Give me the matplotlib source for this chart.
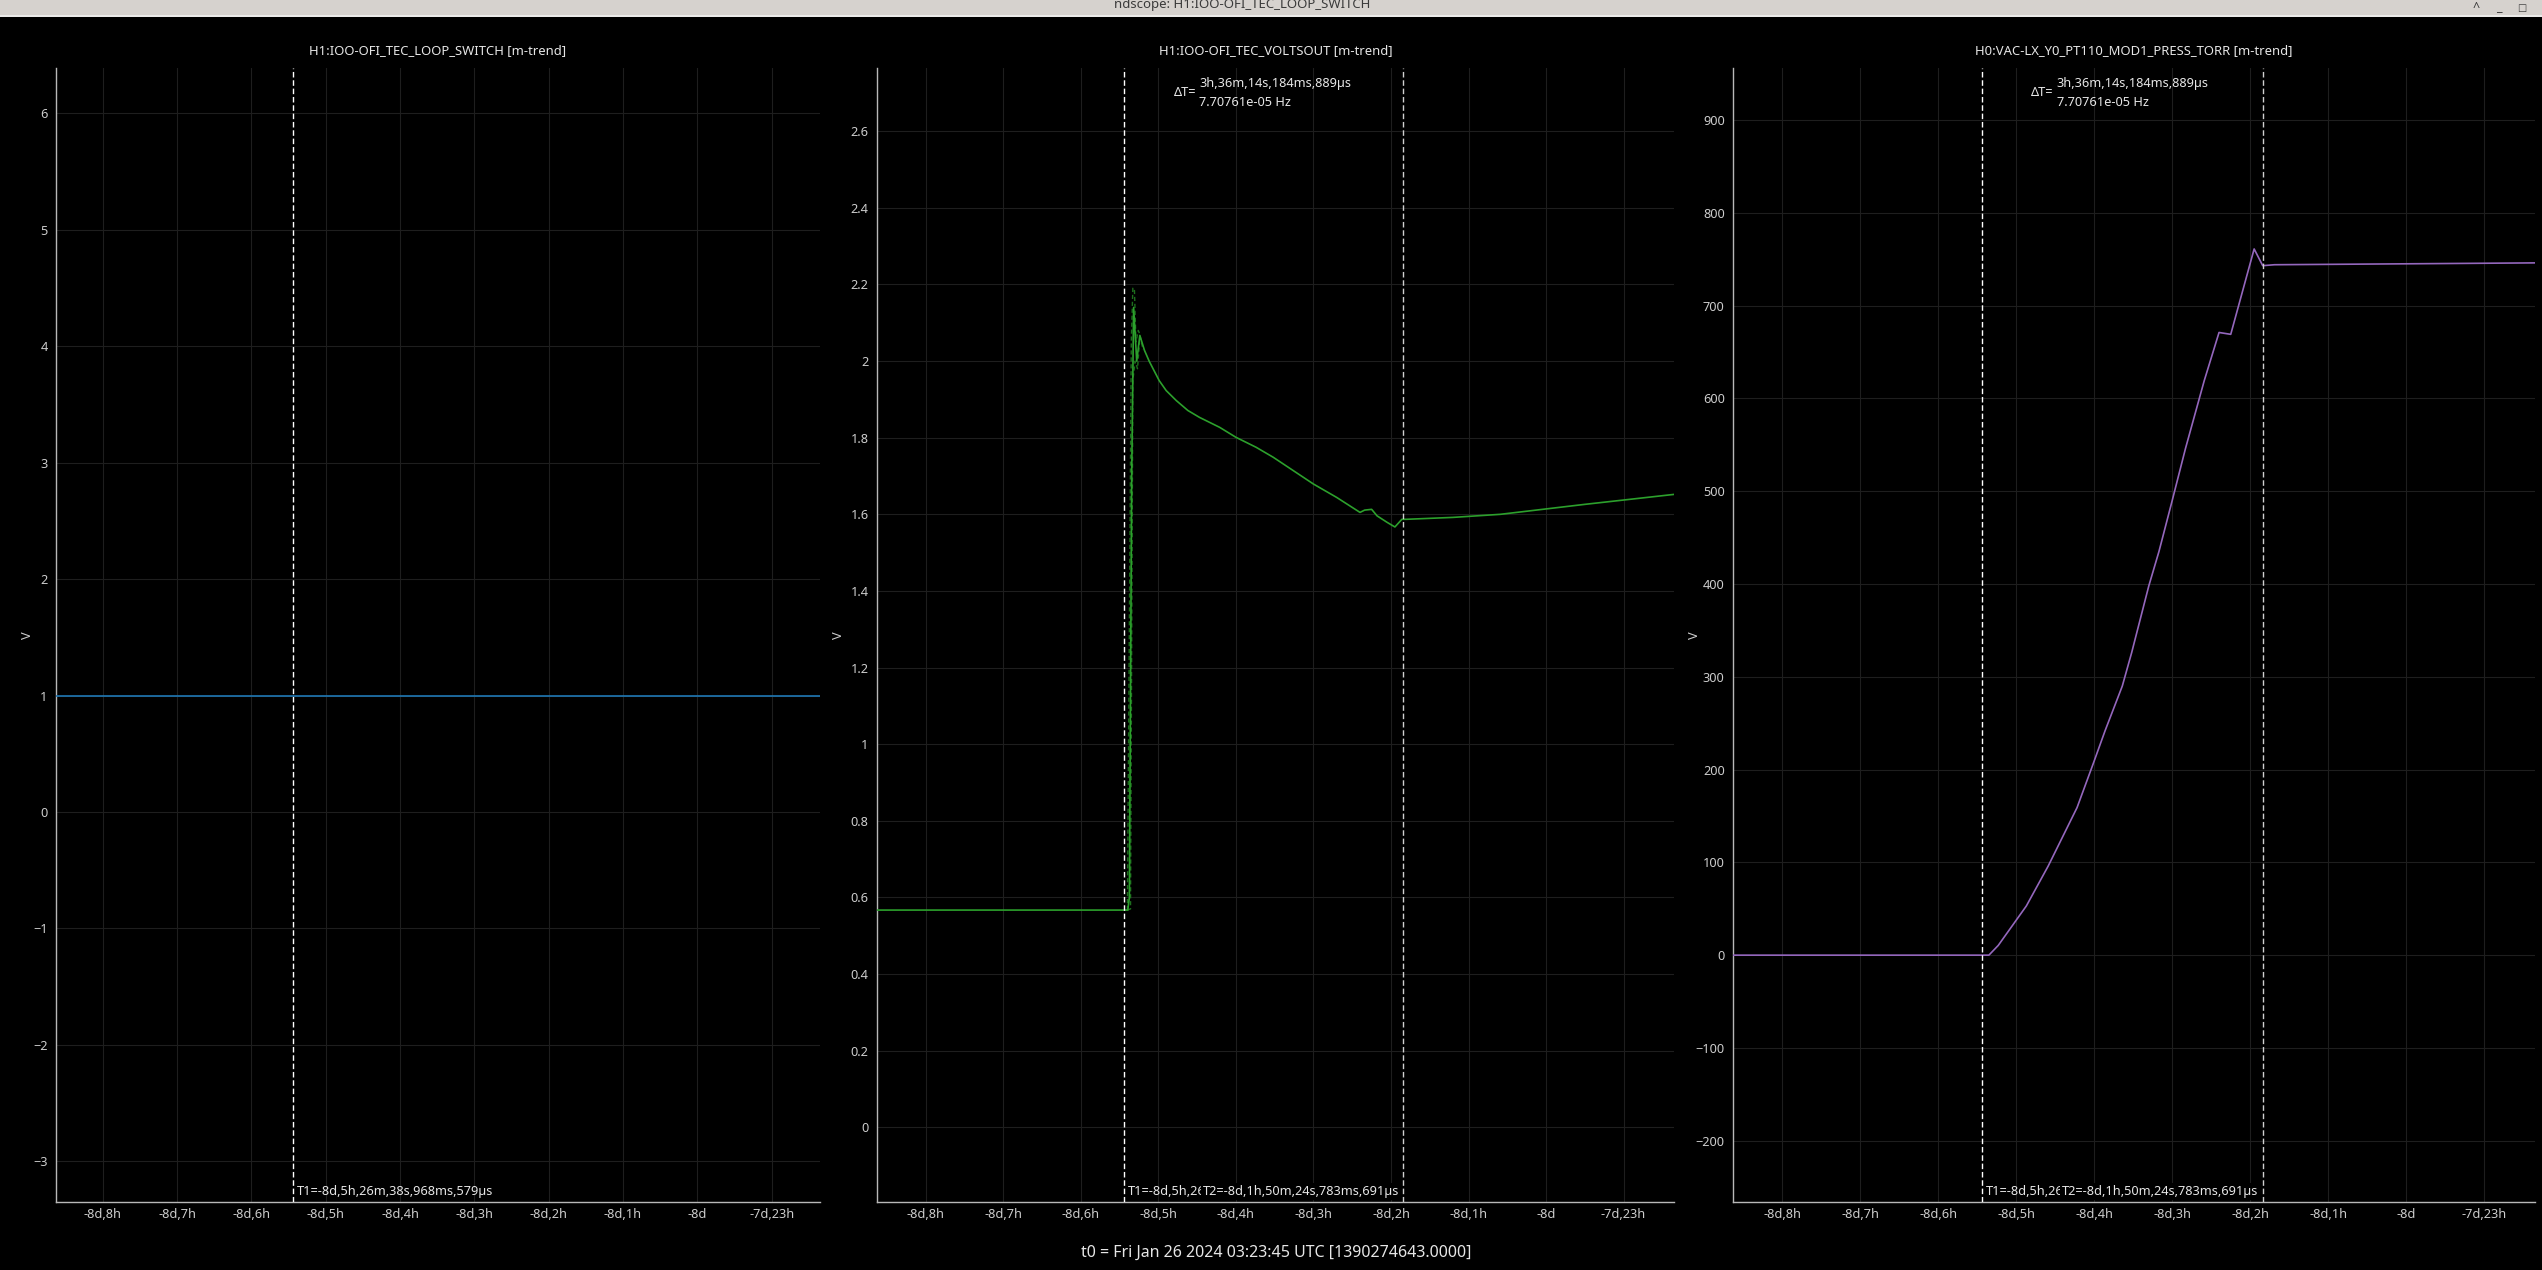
import numpy as np
import matplotlib.pyplot as plt
from matplotlib.ticker import FixedLocator, FuncFormatter, MultipleLocator
from matplotlib.patches import Rectangle

plt.rcParams['font.family'] = ['Noto Sans', 'DejaVu Sans']

# time axis: hours relative to t0
t_min, t_max = -200.63, -190.35
hour_ticks = list(range(-200, -190))
t1 = -197.444
t2 = -193.840

# H1:IOO-OFI_TEC_LOOP_SWITCH
switch_t = [-200.63, -190.35]
switch_v = [1, 1]

# H1:IOO-OFI_TEC_VOLTSOUT (mean)
volts_t = [-200.63, -197.395, -197.375, -197.345, -197.32, -197.28, -197.24,
           -197.18, -197.12, -196.99, -196.90, -196.77, -196.62, -196.47,
           -196.34, -196.21, -196.00, -195.74, -195.52, -195.26, -195.00,
           -194.70, -194.40, -194.34, -194.25, -194.18, -194.05, -193.95,
           -193.86, -193.80, -193.20, -192.59, -191.50, -190.35]
volts_v = [0.567, 0.567, 0.60, 1.70, 2.14, 2.00, 2.067,
           2.028, 2.00, 1.949, 1.923, 1.897, 1.871, 1.853,
           1.840, 1.827, 1.801, 1.775, 1.749, 1.714, 1.679,
           1.644, 1.605, 1.611, 1.613, 1.596, 1.579, 1.567,
           1.587, 1.587, 1.592, 1.600, 1.626, 1.652]
# min / max envelope around the spike
volts_max_t = [-197.40, -197.35, -197.33, -197.31, -197.29, -197.26, -197.24, -197.20]
volts_max_v = [0.567, 2.05, 2.19, 2.19, 2.05, 2.08, 2.07, 2.03]
volts_min_t = [-197.40, -197.36, -197.33, -197.30, -197.27, -197.24]
volts_min_v = [0.567, 0.57, 1.95, 2.00, 1.98, 2.06]

# H0:VAC-LX_Y0_PT110_MOD1_PRESS_TORR
press_t = [-200.67, -197.35, -197.23, -196.87, -196.59, -196.22, -196.01,
           -195.86, -195.64, -195.52, -195.30, -195.17, -195.00, -194.83,
           -194.59, -194.40, -194.25, -193.95, -193.84, -193.69, -192.00, -190.34]
press_v = [0, 0, 10.5, 53, 96, 159, 207,
           242, 290, 326, 398, 435, 490, 546,
           619, 671, 669, 761, 743, 744, 745, 746]

titles = ['H1:IOO-OFI_TEC_LOOP_SWITCH [m-trend]',
          'H1:IOO-OFI_TEC_VOLTSOUT [m-trend]',
          'H0:VAC-LX_Y0_PT110_MOD1_PRESS_TORR [m-trend]']
t1_label = 'T1=-8d,5h,26m,38s,968ms,579µs'
t2_label = 'T2=-8d,1h,50m,24s,783ms,691µs'
dt_label = '3h,36m,14s,184ms,889µs\n7.70761e-05 Hz'
t0_label = 't0 = Fri Jan 26 2024 03:23:45 UTC [1390274643.0000]'


def fmt_hours(h, pos):
    tot = int(round(-h))
    d, r = divmod(tot, 24)
    if r == 0:
        return '-%dd' % d
    return '-%dd,%dh' % (d, r)


W, H = 2542, 1270
fig = plt.figure(figsize=(W / 100, H / 100), dpi=100, facecolor='black')

# window title bar
fig.patches.append(Rectangle((0, 1 - 15 / H), 1, 15 / H, transform=fig.transFigure,
                             facecolor='#d6d2ce', edgecolor='none', zorder=0))
fig.patches.append(Rectangle((0, 1 - 17 / H), 1, 2 / H, transform=fig.transFigure,
                             facecolor='#ecebe9', edgecolor='none', zorder=0))
fig.text(1242 / W, 1 - 8 / H, 'ndscope: H1:IOO-OFI_TEC_LOOP_SWITCH', ha='center',
         va='baseline', fontsize=9.5, fontweight='bold', color='#3a3a3a')
fig.text(2476 / W, 1 - 8 / H, '^', ha='center', va='center', fontsize=9,
         fontweight='bold', color='#3a3a3a')
fig.text(2499 / W, 1 - 8 / H, '_', ha='center', va='center', fontsize=9,
         fontweight='bold', color='#3a3a3a')
fig.text(2522 / W, 1 - 8 / H, '□', ha='center', va='center', fontsize=7,
         fontweight='bold', color='#3a3a3a')

# axes boxes in pixels: left, right
boxes = [(56, 820), (877, 1674), (1733, 2535)]
top, bottom = 68, 1202

axes = []
for (l, r) in boxes:
    ax = fig.add_axes([l / W, 1 - bottom / H, (r - l) / W, (bottom - top) / H])
    ax.set_facecolor('black')
    for s in ['top', 'right']:
        ax.spines[s].set_visible(False)
    for s in ['left', 'bottom']:
        ax.spines[s].set_color('#b8b8b8')
        ax.spines[s].set_linewidth(1)
    ax.set_xlim(t_min, t_max)
    ax.xaxis.set_major_locator(FixedLocator(hour_ticks))
    ax.xaxis.set_major_formatter(FuncFormatter(fmt_hours))
    ax.tick_params(axis='both', length=0, colors='#cccccc', labelsize=9.2)
    ax.tick_params(axis='x', pad=4)
    ax.tick_params(axis='y', pad=6)
    ax.grid(True, color='#1e1e1e', linewidth=0.8)
    ax.set_axisbelow(True)
    axes.append(ax)

ax1, ax2, ax3 = axes

ax1.plot(switch_t, switch_v, color='#1f77b4', lw=1.2, zorder=3)
ax1.set_ylim(-3.35, 6.39)
ax1.yaxis.set_major_locator(MultipleLocator(1))

ax2.plot(volts_max_t, volts_max_v, color='#1d6e1d', lw=1.0, ls=(0, (3, 2)), zorder=2)
ax2.plot(volts_min_t, volts_min_v, color='#1d6e1d', lw=1.0, ls=(0, (3, 2)), zorder=2)
ax2.plot(volts_t, volts_v, color='#2ca02c', lw=1.2, zorder=3)
ax2.set_ylim(-0.195, 2.765)
ax2.yaxis.set_major_locator(MultipleLocator(0.2))
ax2.yaxis.set_major_formatter(FuncFormatter(lambda v, p: '%g' % round(v, 2)))

ax3.plot(press_t, press_v, color='#9467bd', lw=1.2, zorder=3)
ax3.set_ylim(-266, 956)
ax3.yaxis.set_major_locator(MultipleLocator(100))

for ax, title in zip(axes, titles):
    ax.set_title(title, color='#e6e6e6', fontsize=9.4, pad=10)
    ax.set_ylabel('V', color='#cccccc', fontsize=9.2)

ax1.yaxis.set_label_coords(-22 / (820 - 56), 0.5)
ax2.yaxis.set_label_coords(-32 / (1674 - 877), 0.5)
ax3.yaxis.set_label_coords(-32 / (2535 - 1733), 0.5)

# cursors
ax1.axvline(t1, color='white', lw=1.0, ls=(0, (4, 2)), zorder=4)
ax1.annotate(t1_label, xy=(t1, 0), xycoords=('data', 'axes fraction'),
             xytext=(4, 4), textcoords='offset pixels', ha='left', va='bottom',
             color='#e6e6e6', fontsize=9.2)

for ax in (ax2, ax3):
    ax.axvline(t1, color='white', lw=1.0, ls=(0, (4, 2)), zorder=4)
    ax.axvline(t2, color='#d0d0d0', lw=1.0, ls=(0, (4, 2)), zorder=4)
    ax.annotate(t1_label, xy=(t1, 0), xycoords=('data', 'axes fraction'),
                xytext=(4, 4), textcoords='offset pixels', ha='left', va='bottom',
                color='#e6e6e6', fontsize=9.2, zorder=5)
    ax.annotate(t2_label, xy=(t2, 0), xycoords=('data', 'axes fraction'),
                xytext=(-4, 4), textcoords='offset pixels', ha='right', va='bottom',
                color='#e6e6e6', fontsize=9.2, zorder=6,
                bbox=dict(boxstyle='square,pad=0.15', fc='black', ec='none'))
    ax.annotate('ΔT=', xy=(t1, 1), xycoords=('data', 'axes fraction'),
                xytext=(72, -25), textcoords='offset pixels', ha='right', va='center',
                color='#e6e6e6', fontsize=9.2)
    ax.annotate(dt_label, xy=(t1, 1), xycoords=('data', 'axes fraction'),
                xytext=(75, -25), textcoords='offset pixels', ha='left', va='center',
                color='#e6e6e6', fontsize=9.2, linespacing=1.5)

fig.text(1276 / W, 1 - 1253 / H, t0_label, ha='center', va='center',
         color='#e6e6e6', fontsize=11.5)

plt.savefig('out.png', dpi=100, facecolor='black')
